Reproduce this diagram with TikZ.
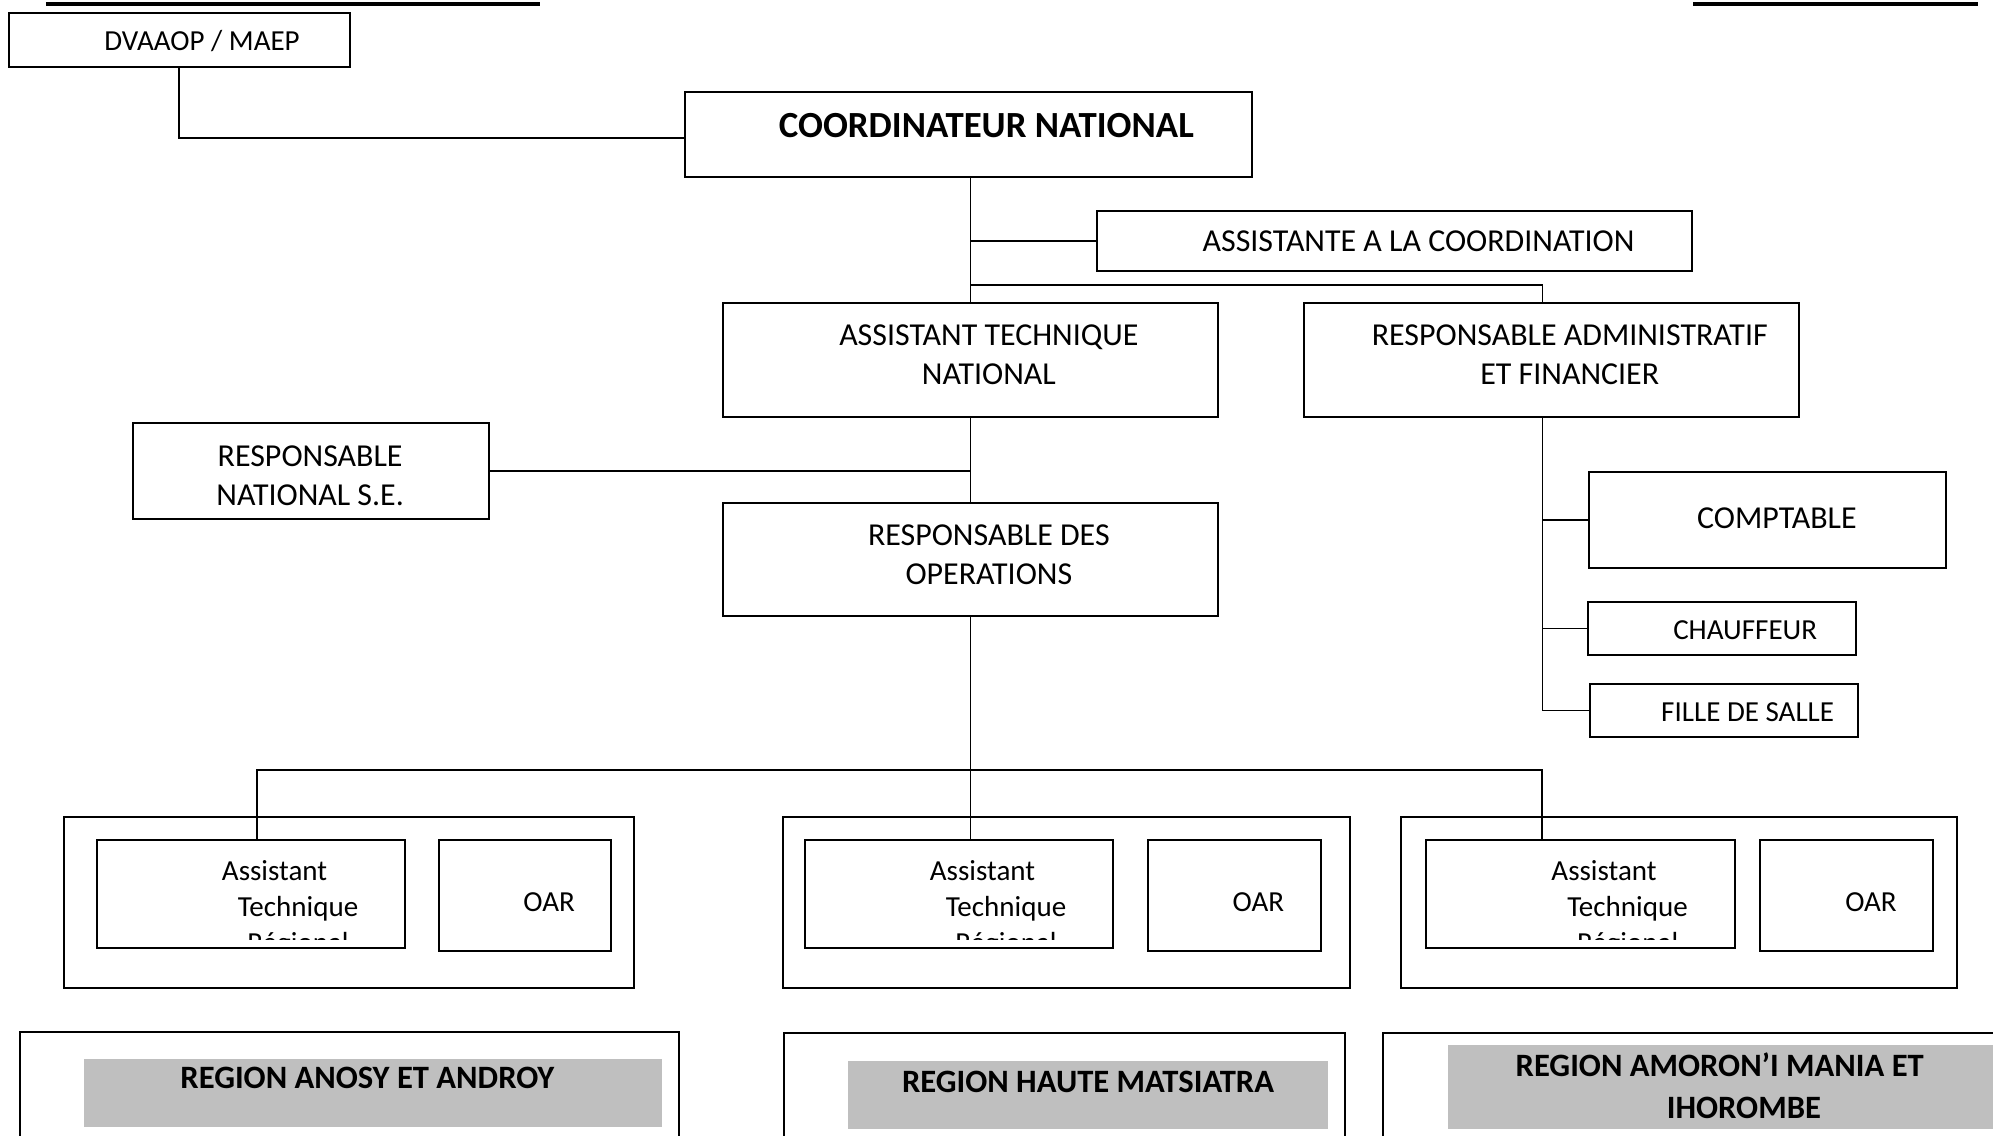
\documentclass[tikz,border=0pt]{standalone}
\usepackage{fontspec}
\setmainfont{Carlito}
\usetikzlibrary{fit,positioning}

\definecolor{bandgray}{RGB}{191,191,191}

\tikzset{
  box/.style={draw, line width=0.9pt, inner sep=0pt},
  link/.style={line width=0.75pt},
  band/.style={fill=bandgray, inner sep=0pt},
  txt/.style={font=\fontsize{14.3}{17.4}\selectfont, align=center, inner sep=0pt, text depth=0pt},
  smalltxt/.style={font=\fontsize{13}{16.2}\selectfont, align=center, inner sep=0pt, text depth=0pt},
  headtxt/.style={font=\bfseries\fontsize{16.5}{20}\selectfont, inner sep=0pt, text depth=0pt},
  regtxt/.style={font=\bfseries\fontsize{14.6}{18.8}\selectfont, align=center, inner sep=0pt, text depth=0pt},
}

\begin{document}
\begin{tikzpicture}[x=0.2mm, y=-0.2mm]

    \clip (0,0) rectangle (1568,893);

    % page rules
    \draw[line width=1.6pt] (36,3) -- (425,3);
    \draw[line width=1.6pt] (1332,3) -- (1556,3);

    % national level
    \node[box, fit={(7,10) (275,53)}] (dvaaop) {};
    \node[smalltxt] (dvaaop-t) at (159,31.5) {DVAAOP / MAEP};

    \node[box, fit={(539,72) (985,139)}] (coord) {};
    \node[headtxt] (coord-t) at (776,99) {COORDINATEUR NATIONAL};

    \node[box, fit={(863,166) (1331,213)}] (assist) {};
    \node[txt] (assist-t) at (1116,190) {ASSISTANTE A LA COORDINATION};

    \node[box, fit={(569,238) (958,328)}] (atn) {};
    \node[txt] (atn-t) at (778,279) {ASSISTANT TECHNIQUE\\NATIONAL};

    \node[box, fit={(1026,238) (1415,328)}] (raf) {};
    \node[txt] (raf-t) at (1235,279) {RESPONSABLE ADMINISTRATIF\\ET FINANCIER};

    \node[box, fit={(105,333) (385,408)}] (rnse) {};
    \node[txt] (rnse-t) at (244,374) {RESPONSABLE\\NATIONAL S.E.};

    \node[box, fit={(569,396) (958,485)}] (rdo) {};
    \node[txt] (rdo-t) at (778,436.5) {RESPONSABLE DES\\OPERATIONS};

    \node[box, fit={(1250,371) (1531,447)}] (compta) {};
    \node[txt] (compta-t) at (1398,408) {COMPTABLE};

    \node[box, fit={(1249,474) (1460,515)}] (chauf) {};
    \node[smalltxt] (chauf-t) at (1373,496) {CHAUFFEUR};

    \node[box, fit={(1251,538) (1462,580)}] (fille) {};
    \node[smalltxt] (fille-t) at (1375,560) {FILLE DE SALLE};

    % regional teams
    \node[box, fit={(50,643) (499,777)}] (grp1) {};
    \node[box, fit={(76,661) (319,746)}] (atr1) {};
    \node[box, fit={(345,661) (481,748)}] (oar1) {};
    \node[smalltxt] (oar1-t) at (432,710) {OAR};

    \node[box, fit={(616,643) (1062,777)}] (grp2) {};
    \node[box, fit={(633,661) (876,746)}] (atr2) {};
    \node[box, fit={(903,661) (1039,748)}] (oar2) {};
    \node[smalltxt] (oar2-t) at (990,710) {OAR};

    \node[box, fit={(1102,643) (1540,777)}] (grp3) {};
    \node[box, fit={(1122,661) (1365,746)}] (atr3) {};
    \node[box, fit={(1385,661) (1521,748)}] (oar3) {};
    \node[smalltxt] (oar3-t) at (1472,710) {OAR};

    \begin{scope}
        \clip (atr1.north west) rectangle ([yshift=1.6mm]atr1.south east);
        \node[smalltxt] (atr1-t) at ([xshift=7.4mm]atr1.center |- 0,713) {Assistant\hspace*{7.4mm}\\Technique\\Régional};
    \end{scope}
    \begin{scope}
        \clip (atr2.north west) rectangle ([yshift=1.6mm]atr2.south east);
        \node[smalltxt] (atr2-t) at ([xshift=7.4mm]atr2.center |- 0,713) {Assistant\hspace*{7.4mm}\\Technique\\Régional};
    \end{scope}
    \begin{scope}
        \clip (atr3.north west) rectangle ([yshift=1.6mm]atr3.south east);
        \node[smalltxt] (atr3-t) at ([xshift=7.4mm]atr3.center |- 0,713) {Assistant\hspace*{7.4mm}\\Technique\\Régional};
    \end{scope}

    % regions
    \node[box, fit={(16,812) (534,920)}] (reg1) {};
    \node[band, fit={(66,833) (521,887)}] (band1) {};
    \node[regtxt] (reg1-t) at (289,848) {REGION ANOSY ET ANDROY};

    \node[box, fit={(617,813) (1058,920)}] (reg2) {};
    \node[band, fit={(667,835) (1045,888)}] (band2) {};
    \node[regtxt] (reg2-t) at (856,851) {REGION HAUTE MATSIATRA};

    \node[box, fit={(1088,813) (1620,920)}] (reg3) {};
    \node[band, fit={(1139,822) (1620,888)}] (band3) {};
    \node[regtxt] (reg3-t) at (1353,854.5) {REGION AMORON’I MANIA ET\\\hspace*{7.6mm}IHOROMBE};

    % links
    \draw[link] (dvaaop.south) |- ([yshift=-0.6mm]coord.west);
    \draw[link] (coord.south -| atn.north) -- (atn.north);
    \draw[link] (atn.north |- assist.west) -- (assist.west);
    \draw[link] (atn.north |- 0,224) -| ([xshift=-1.4mm]raf.north);
    \draw[link] (atn.south) -- (rdo.north);
    \draw[link] (rnse.east) -- (rnse.east -| atn.south);

    \coordinate (rafx) at ([xshift=-1.4mm]raf.south);
    \draw[link] (rafx) |- (fille.west);
    \draw[link] (rafx |- compta.west) -- (compta.west);
    \draw[link] (rafx |- chauf.west) -- (chauf.west);

    \coordinate (bus) at (0,606);
    \coordinate (d1) at ([xshift=0.9mm]atr1.north);
    \coordinate (d3) at ([xshift=-6.1mm]atr3.north);
    \draw[link] (d1) |- (d3 |- bus) -- (d3);
    \draw[link] (rdo.south) -- (rdo.south |- atr2.north);

\end{tikzpicture}
\end{document}
